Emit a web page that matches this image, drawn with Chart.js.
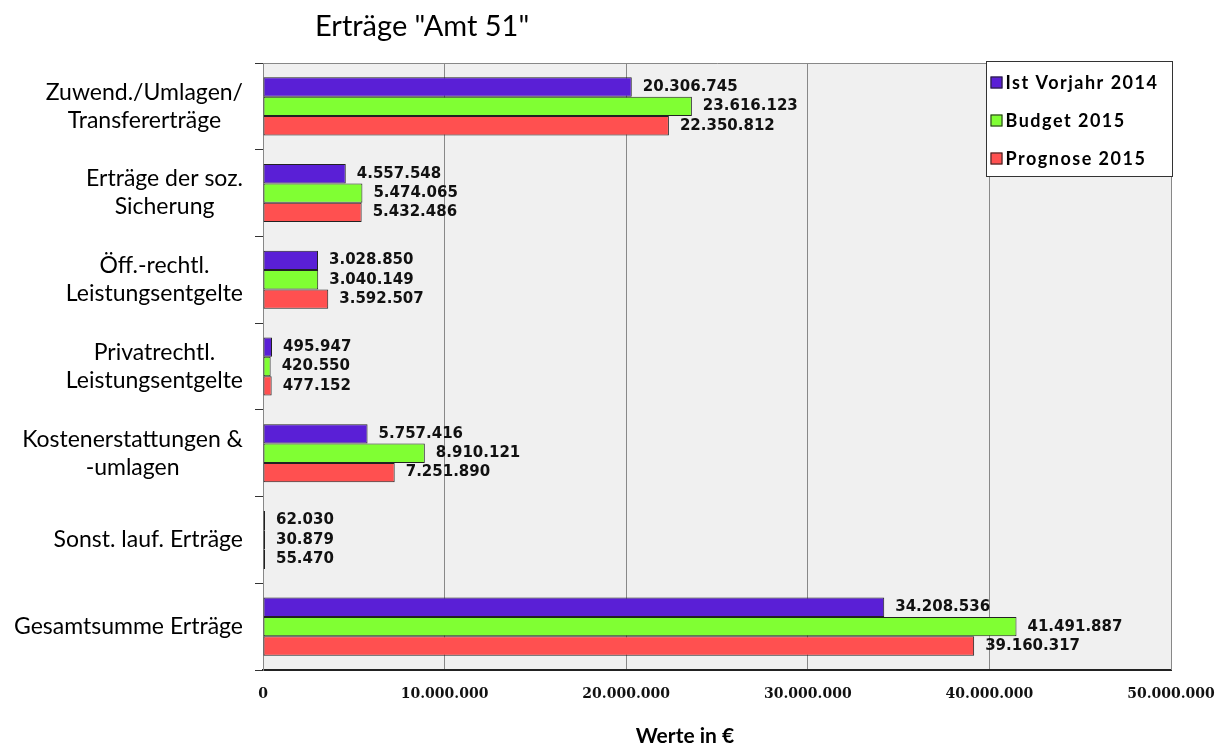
<!DOCTYPE html>
<html>
<head>
<meta charset="utf-8">
<script src="https://cdn.jsdelivr.net/npm/chart.js@4"></script>
<style>
  html, body { margin: 0; padding: 0; background: #fff; }
  #wrap { width: 1221px; height: 746px; }
</style>
</head>
<body>
<div id="wrap"><canvas id="chart"></canvas></div>
<script>
// categories (multi-line labels)
const categories = [
    ['Zuwend./Umlagen/', 'Transfererträge'],
    ['Erträge der soz.', 'Sicherung'],
    ['Öff.-rechtl.', 'Leistungsentgelte'],
    ['Privatrechtl.', 'Leistungsentgelte'],
    ['Kostenerstattungen &', '-umlagen'],
    ['Sonst. lauf. Erträge'],
    ['Gesamtsumme Erträge']
];
const seriesNames = ['Ist Vorjahr 2014', 'Budget 2015', 'Prognose 2015'];
const istVorjahr2014 = [20306745, 4557548, 3028850, 495947, 5757416, 62030, 34208536];
const budget2015 = [23616123, 5474065, 3040149, 420550, 8910121, 30879, 41491887];
const prognose2015 = [22350812, 5432486, 3592507, 477152, 7251890, 55470, 39160317];
const xTicks = [0, 10000000, 20000000, 30000000, 40000000, 50000000];

const colors = ['#5a1fd6', '#80ff33', '#ff5050'];

// German thousands format
function fmt(v) {
    return String(Math.round(v)).replace(/\B(?=(\d{3})+(?!\d))/g, '.');
}

// plot background + frame
const framePlugin = {
    id: 'frame',
    beforeDraw(chart) {
        const { ctx, chartArea: a } = chart;
        ctx.save();
        ctx.fillStyle = '#f0f0f0';
        ctx.fillRect(a.left, a.top, a.right - a.left, a.bottom - a.top);
        ctx.restore();
    },
    afterDraw(chart) {
        const { ctx, chartArea: a } = chart;
        ctx.save();
        ctx.strokeStyle = '#888';
        ctx.lineWidth = 1;
        ctx.beginPath();
        ctx.moveTo(a.left, a.top + 0.5);
        ctx.lineTo(a.right + 0.5, a.top + 0.5);
        ctx.lineTo(a.right + 0.5, a.bottom);
        ctx.stroke();
        ctx.restore();
    }
};

// category labels: block right-aligned, lines centered within the block
const catLabelPlugin = {
    id: 'catLabels',
    afterDraw(chart) {
        const { ctx } = chart;
        const y = chart.scales.y;
        ctx.save();
        ctx.font = '23px Lato';
        ctx.fillStyle = '#000';
        ctx.textAlign = 'center';
        ctx.textBaseline = 'middle';
        const rightEdge = chart.chartArea.left - 20;
        const lineH = 28;
        categories.forEach((lines, i) => {
            const cy = y.getPixelForTick(i);
            const w = Math.max(...lines.map(l => ctx.measureText(l).width));
            const cx = rightEdge - w / 2;
            lines.forEach((l, j) => {
                ctx.fillText(l, cx, cy + (j - (lines.length - 1) / 2) * lineH);
            });
        });
        ctx.restore();
    }
};

// value labels at bar ends
const valueLabelPlugin = {
    id: 'valueLabels',
    afterDatasetsDraw(chart) {
        const { ctx } = chart;
        ctx.save();
        ctx.font = 'bold 15px "DejaVu Sans"';
        ctx.fillStyle = '#111';
        ctx.textAlign = 'left';
        ctx.textBaseline = 'middle';
        chart.data.datasets.forEach((ds, di) => {
            chart.getDatasetMeta(di).data.forEach((bar, i) => {
                ctx.fillText(fmt(ds.data[i]), bar.x + 11, bar.y);
            });
        });
        ctx.restore();
    }
};

// title, axis title and legend box inside the plot
const extrasPlugin = {
    id: 'extras',
    afterDraw(chart) {
        const { ctx, chartArea: a } = chart;
        ctx.save();
        ctx.fillStyle = '#000';
        ctx.textBaseline = 'alphabetic';
        ctx.textAlign = 'left';
        ctx.font = '29px Lato';
        ctx.fillText('Erträge "Amt 51"', 315, 36);

        ctx.font = 'bold 21px Lato';
        ctx.textAlign = 'center';
        ctx.fillText('Werte in €', 685, 743);

        // legend
        const bw = 186, bh = 115;
        const bx = a.right - bw + 1.5, by = a.top - 1.5;
        ctx.fillStyle = '#fff';
        ctx.fillRect(bx, by, bw, bh);
        ctx.strokeStyle = '#333';
        ctx.lineWidth = 1;
        ctx.strokeRect(bx, by, bw, bh);
        ctx.font = 'bold 18px Lato';
        ctx.letterSpacing = '1.5px';
        ctx.textAlign = 'left';
        ctx.textBaseline = 'middle';
        seriesNames.forEach((name, i) => {
            const cy = by + 21 + i * 38;
            ctx.fillStyle = colors[i];
            ctx.fillRect(bx + 4, cy - 6, 12, 12);
            ctx.strokeStyle = '#222';
            ctx.strokeRect(bx + 4.5, cy - 5.5, 11, 11);
            ctx.fillStyle = '#000';
            ctx.fillText(name, bx + 19, cy + 1);
        });
        ctx.restore();
    }
};

new Chart(document.getElementById('chart'), {
    type: 'bar',
    data: {
        labels: categories,
        datasets: [
            { label: seriesNames[0], data: istVorjahr2014, backgroundColor: colors[0] },
            { label: seriesNames[1], data: budget2015, backgroundColor: colors[1] },
            { label: seriesNames[2], data: prognose2015, backgroundColor: colors[2] }
        ].map(ds => Object.assign(ds, {
            borderColor: '#222',
            borderWidth: 1,
            borderSkipped: false,
            minBarLength: 2,
            categoryPercentage: 0.67,
            barPercentage: 1.0
        }))
    },
    options: {
        indexAxis: 'y',
        responsive: true,
        maintainAspectRatio: false,
        animation: false,
        layout: { padding: { top: 63, right: 50, left: 0, bottom: 0 } },
        plugins: {
            legend: { display: false },
            tooltip: { enabled: false }
        },
        scales: {
            x: {
                min: 0,
                max: 50000000,
                afterBuildTicks: scale => { scale.ticks = xTicks.map(v => ({ value: v })); },
                afterFit: scale => {
                    scale.height = 76;
                    scale.paddingLeft = 0;
                    scale.paddingRight = 0;
                },
                grid: { color: '#888', tickLength: 0 },
                border: { color: '#222', width: 2 },
                ticks: {
                    callback: v => fmt(v),
                    font: { family: 'DejaVu Serif', weight: 'bold', size: 14 },
                    color: '#111',
                    padding: 16,
                    maxRotation: 0
                }
            },
            y: {
                afterFit: scale => { scale.width = 263; },
                grid: { drawOnChartArea: false, color: '#333', tickLength: 8, offset: true },
                border: { color: '#888', width: 1 },
                ticks: { display: false }
            }
        }
    },
    plugins: [framePlugin, valueLabelPlugin, catLabelPlugin, extrasPlugin]
});
</script>
</body>
</html>
